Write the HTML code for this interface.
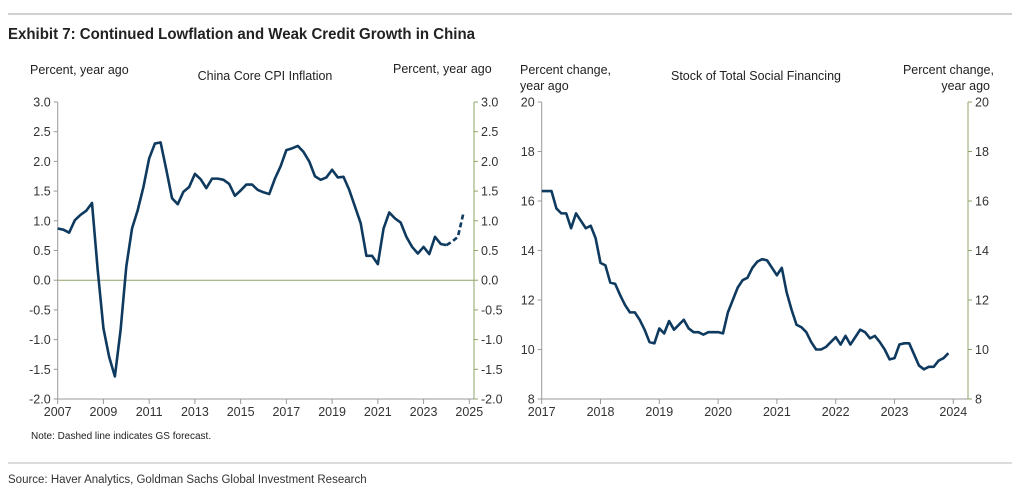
<!DOCTYPE html>
<html><head><meta charset="utf-8"><style>
html,body{margin:0;padding:0;background:#fff;}
svg{display:block;font-family:"Liberation Sans",Arial,sans-serif;}
.tk{font-size:12.5px;fill:#333;}
.hd{font-size:12.5px;fill:#222;}
</style></head><body>
<svg id="svg" width="1020" height="492" viewBox="0 0 1020 492">
<line x1="8" y1="14" x2="1012" y2="14" stroke="#d0d0d0" stroke-width="2"/>
<text x="8" y="39" font-size="15.5" font-weight="bold" fill="#222" textLength="467" lengthAdjust="spacingAndGlyphs">Exhibit 7: Continued Lowflation and Weak Credit Growth in China</text>
<text class="hd" x="30" y="74">Percent, year ago</text>
<text class="hd" x="265" y="80" text-anchor="middle">China Core CPI Inflation</text>
<text class="hd" x="393" y="73">Percent, year ago</text>
<text class="hd" x="520" y="74">Percent change,</text>
<text class="hd" x="520" y="90">year ago</text>
<text class="hd" x="756" y="80" text-anchor="middle">Stock of Total Social Financing</text>
<text class="hd" x="994" y="74" text-anchor="end">Percent change,</text>
<text class="hd" x="990" y="90" text-anchor="end">year ago</text>
<g id="c1"></g>
<g id="c2"></g>
<text x="31" y="439" font-size="10" fill="#222">Note: Dashed line indicates GS forecast.</text>
<line x1="8" y1="463" x2="1012" y2="463" stroke="#d0d0d0" stroke-width="1.5"/>
<text x="8" y="483" font-size="11.5" fill="#333">Source: Haver Analytics, Goldman Sachs Global Investment Research</text>
</svg>
<script>
// CPI data (quarterly from 2007Q1)
const cpiStart = 2007;
const cpiActual = [0.87,0.85,0.80,1.01,1.10,1.17,1.30,0.17,-0.81,-1.29,-1.62,-0.84,0.23,0.87,1.18,1.57,2.05,2.30,2.32,1.86,1.38,1.28,1.49,1.57,1.79,1.70,1.55,1.71,1.71,1.69,1.62,1.42,1.51,1.61,1.61,1.52,1.48,1.45,1.71,1.92,2.19,2.22,2.26,2.16,2.00,1.75,1.69,1.73,1.86,1.73,1.74,1.52,1.24,0.96,0.41,0.41,0.27,0.87,1.14,1.04,0.97,0.73,0.56,0.45,0.56,0.44,0.73,0.61,0.59];
const cpiForecast = [0.59,0.65,0.73,1.14];
const cpiYTicks = [3.0,2.5,2.0,1.5,1.0,0.5,0.0,-0.5,-1.0,-1.5,-2.0];
const cpiXTicks = [2007,2009,2011,2013,2015,2017,2019,2021,2023,2025];
// TSF data (monthly from Jan 2017)
const tsfStart = 2017;
const tsfValues = [16.4,16.4,16.4,15.7,15.5,15.5,14.9,15.5,15.2,14.9,15.0,14.5,
13.5,13.4,12.7,12.65,12.2,11.8,11.5,11.5,11.2,10.8,10.3,10.25,
10.85,10.65,11.15,10.8,11.0,11.2,10.85,10.7,10.7,10.6,10.7,10.7,
10.7,10.65,11.5,12.0,12.5,12.8,12.9,13.3,13.55,13.65,13.6,13.3,
13.0,13.3,12.3,11.6,11.0,10.9,10.7,10.3,10.0,10.0,10.1,10.3,
10.5,10.2,10.55,10.2,10.5,10.8,10.7,10.45,10.55,10.3,10.0,9.6,
9.65,10.2,10.25,10.25,9.8,9.35,9.2,9.3,9.3,9.55,9.65,9.85];
const tsfYTicks = [20,18,16,14,12,10,8];
const tsfXTicks = [2017,2018,2019,2020,2021,2022,2023,2024];

const NS="http://www.w3.org/2000/svg";
function mk(parent,tag,attrs){const e=document.createElementNS(NS,tag);for(const k in attrs)e.setAttribute(k,attrs[k]);parent.appendChild(e);return e;}
function drawChart(g,o){
  const sx=v=>o.x0+(v-o.xmin)/(o.xmax-o.xmin)*(o.x1-o.x0);
  const sy=v=>o.y0+(o.ymax-v)/(o.ymax-o.ymin)*(o.y1-o.y0);
  const la=mk(g,'line',{x1:o.x0,y1:o.y0,x2:o.x0,y2:o.y1,stroke:'#9a9a9a','stroke-width':1});
  
  
  const ra=mk(g,'line',{x1:o.xr,y1:o.y0,x2:o.xr,y2:o.y1,stroke:'#8fa46a','stroke-width':1});
  
  
  const xa=mk(g,'line',{x1:o.x0,y1:o.y1,x2:o.xr,y2:o.y1,stroke:'#9a9a9a','stroke-width':1});
  
  
  o.yt.forEach(v=>{
    const y=sy(v);
    mk(g,'line',{x1:o.x0-4,y1:y,x2:o.x0,y2:y,stroke:'#9a9a9a'});
    mk(g,'line',{x1:o.xr,y1:y,x2:o.xr+4,y2:y,stroke:'#8fa46a'});
    const t=mk(g,'text',{x:o.x0-7,y:y+4.5,'text-anchor':'end',class:'tk'});t.textContent=o.fmt(v);
    
    
    const t2=mk(g,'text',{x:o.xr+7,y:y+4.5,class:'tk'});t2.textContent=o.fmt(v);
    
    
  });
  o.xt.forEach(v=>{
    const x=sx(v);
    mk(g,'line',{x1:x,y1:o.y1,x2:x,y2:o.y1+5,stroke:'#9a9a9a'});
    const t=mk(g,'text',{x:x,y:o.y1+17,'text-anchor':'middle',class:'tk'});t.textContent=v;
    
    
  });
  return {sx,sy};
}
const c1=document.getElementById('c1');
const a1=drawChart(c1,{x0:57.7,x1:469.3,xr:474,y0:102,y1:399,xmin:2007,xmax:2025,ymin:-2,ymax:3,yt:cpiYTicks,xt:cpiXTicks,fmt:v=>v.toFixed(1)});
const z=mk(c1,'line',{x1:57.7,y1:a1.sy(0),x2:474,y2:a1.sy(0),stroke:'#8fa46a','stroke-width':1});


const p1=mk(c1,'polyline',{points:cpiActual.map((v,i)=>a1.sx(cpiStart+i/4)+','+a1.sy(v)).join(' '),fill:'none',stroke:'#0f3a5f','stroke-width':2.6,'stroke-linejoin':'round'});


const fOff=cpiActual.length-1;
const p2=mk(c1,'polyline',{points:cpiForecast.map((v,i)=>a1.sx(cpiStart+(fOff+i)/4)+','+a1.sy(v)).join(' '),fill:'none',stroke:'#0f3a5f','stroke-width':2.6,'stroke-dasharray':'5,3'});


const c2=document.getElementById('c2');
const a2=drawChart(c2,{x0:541.7,x1:953.3,xr:968,y0:102,y1:399,xmin:2017,xmax:2024,ymin:8,ymax:20,yt:tsfYTicks,xt:tsfXTicks,fmt:v=>String(v)});
const p3=mk(c2,'polyline',{points:tsfValues.map((v,i)=>a2.sx(tsfStart+i/12)+','+a2.sy(v)).join(' '),fill:'none',stroke:'#0f3a5f','stroke-width':2.6,'stroke-linejoin':'round'});


</script>
</body></html>
